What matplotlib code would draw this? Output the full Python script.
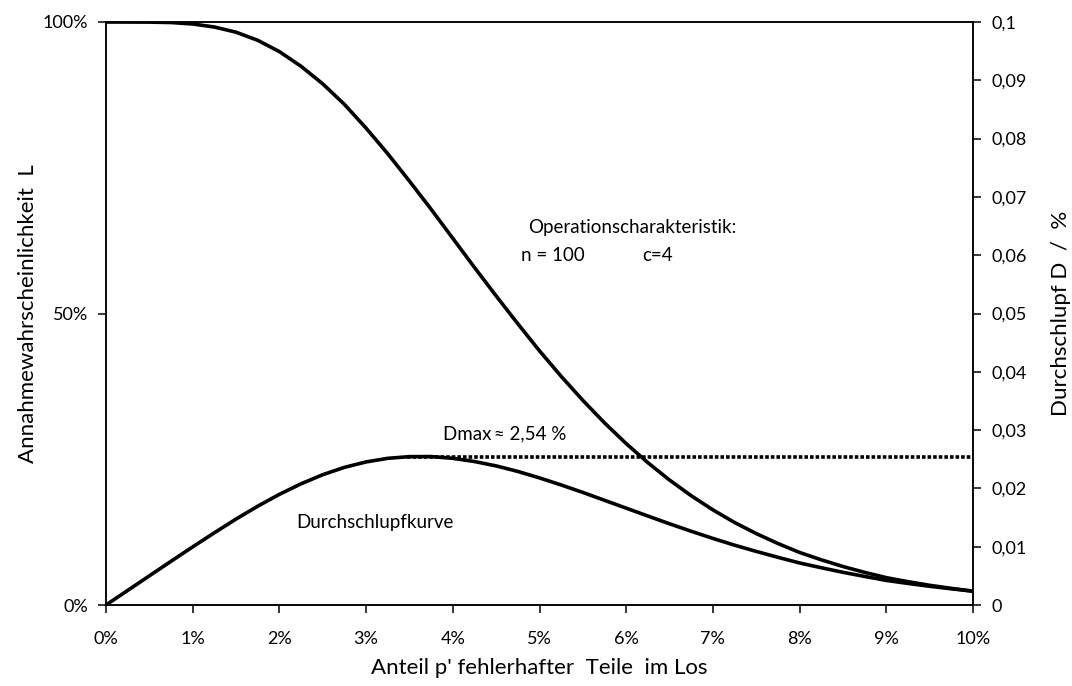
import numpy as np
import matplotlib
matplotlib.use("Agg")
import matplotlib.pyplot as plt

plt.rcParams['font.family'] = ['Lato', 'DejaVu Sans']

# Anteil fehlerhafter Teile p' (0 ... 10 %)
p_anteil = [0.0, 0.0025, 0.005, 0.0075, 0.01, 0.0125, 0.015, 0.0175, 0.02, 0.0225,
            0.025, 0.0275, 0.03, 0.0325, 0.035, 0.0375, 0.04, 0.0425, 0.045, 0.0475,
            0.05, 0.0525, 0.055, 0.0575, 0.06, 0.0625, 0.065, 0.0675, 0.07, 0.0725,
            0.075, 0.0775, 0.08, 0.0825, 0.085, 0.0875, 0.09, 0.0925, 0.095, 0.0975, 0.10]

# Annahmewahrscheinlichkeit L (OC-Kurve, n = 100, c = 4)
annahme_L = [1.0, 0.9999, 0.9998, 0.9991, 0.9966, 0.9914, 0.9825, 0.9686, 0.9492, 0.9240,
             0.8939, 0.8587, 0.8179, 0.7740, 0.7271, 0.6788, 0.6289, 0.5790, 0.5301, 0.4824,
             0.4360, 0.3922, 0.3510, 0.3124, 0.2768, 0.2441, 0.2143, 0.1874, 0.1632, 0.1415,
             0.1225, 0.1055, 0.0901, 0.0775, 0.0660, 0.0560, 0.0469, 0.0400, 0.0338, 0.0285, 0.0237]

# Durchschlupf D (rechte Achse)
durchschlupf_D = [0.0, 0.0025, 0.0050, 0.0075, 0.00997, 0.01239, 0.01474, 0.01695, 0.01898, 0.02079,
                  0.02235, 0.02361, 0.02454, 0.02516, 0.02545, 0.02546, 0.02516, 0.02461, 0.02386, 0.02291,
                  0.02180, 0.02059, 0.01931, 0.01796, 0.01661, 0.01526, 0.01393, 0.01265, 0.01142, 0.01026,
                  0.00919, 0.00818, 0.00721, 0.00639, 0.00561, 0.00490, 0.00422, 0.00370, 0.00321, 0.00278, 0.00237]

d_max = 0.0254
p_bei_dmax = 0.0347

x_ticks = [i / 100 for i in range(11)]
x_labels = ["%d%%" % i for i in range(11)]
y_ticks = [0.0, 0.5, 1.0]
y_labels = ["0%", "50%", "100%"]
y2_ticks = [i / 100 for i in range(11)]
y2_labels = ["0"] + [("%.2f" % t).rstrip("0").replace(".", ",") for t in y2_ticks[1:]]

fig = plt.figure(figsize=(10.72, 6.86), dpi=100)
ax = fig.add_axes([106 / 1072, 1 - 605 / 686, 867 / 1072, 583 / 686])
ax2 = ax.twinx()

ax.plot(p_anteil, annahme_L, color="black", lw=2.6, solid_joinstyle="round")
ax2.plot(p_anteil, durchschlupf_D, color="black", lw=2.6, solid_joinstyle="round")
ax2.plot([p_bei_dmax, 0.10], [d_max, d_max], color="black", lw=2.6,
         linestyle=(0, (1.0, 0.55)), dash_capstyle="butt")

ax.set_xlim(0, 0.10)
ax.set_ylim(0, 1.0)
ax2.set_ylim(0, 0.1)

ax.set_xticks(x_ticks)
ax.set_xticklabels(x_labels)
ax.set_yticks(y_ticks)
ax.set_yticklabels(y_labels)
ax2.set_yticks(y2_ticks)
ax2.set_yticklabels(y2_labels)

for a in (ax, ax2):
    for spine in a.spines.values():
        spine.set_linewidth(1.1)
    a.tick_params(labelsize=13, length=6, width=1.1, direction="out", pad=7)
ax.tick_params(axis="x", pad=13)

ax.set_xlabel("Anteil p' fehlerhafter  Teile  im Los", fontsize=16, labelpad=8)
ax.set_ylabel("Annahmewahrscheinlichkeit  L", fontsize=16, labelpad=3)
ax2.set_ylabel("Durchschlupf D  /  %", fontsize=16, labelpad=18)

ax.text(0.0607, 0.647, "Operationscharakteristik:", fontsize=13.5, ha="center", va="center")
ax.text(0.0479, 0.600, "n = 100", fontsize=13.5, ha="left", va="center")
ax.text(0.0619, 0.600, "c=4", fontsize=13.5, ha="left", va="center")
ax2.text(0.0389, 0.0293, "Dmax\u2009\u2248 2,54 %", fontsize=13.5, ha="left", va="center")
ax.text(0.0220, 0.142, "Durchschlupfkurve", fontsize=13.5, ha="left", va="center")

fig.savefig("out.png", dpi=100)
